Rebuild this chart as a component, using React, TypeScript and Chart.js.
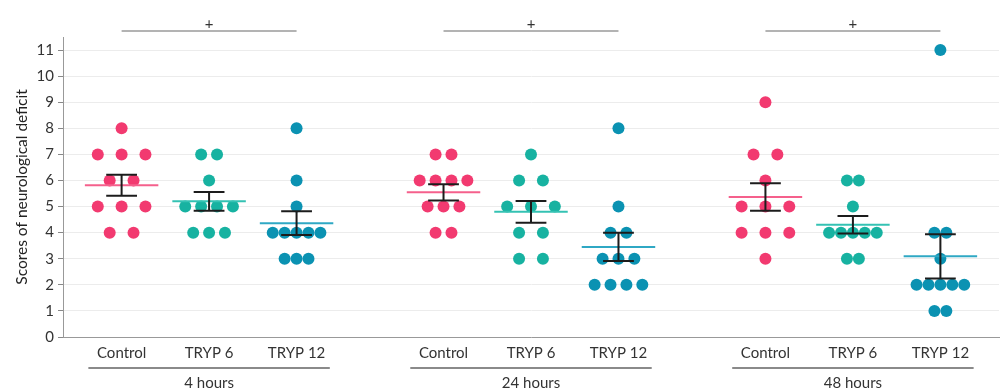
import React, { useEffect, useRef } from 'react';
import { Chart, registerables } from 'chart.js';

Chart.register(...registerables);

// ---------- data ----------
const timepoints = ['4 hours', '24 hours', '48 hours'];
const treatments = ['Control', 'TRYP 6', 'TRYP 12'];

const control4h = [8, 7, 7, 7, 6, 6, 5, 5, 5, 4, 4];
const tryp6_4h = [7, 7, 6, 5, 5, 5, 5, 4, 4, 4];
const tryp12_4h = [8, 6, 5, 4, 4, 4, 4, 4, 3, 3, 3];

const control24h = [7, 7, 6, 6, 6, 6, 5, 5, 5, 4, 4];
const tryp6_24h = [7, 6, 6, 5, 5, 5, 4, 4, 3, 3];
const tryp12_24h = [8, 5, 4, 4, 3, 3, 3, 2, 2, 2, 2];

const control48h = [9, 7, 7, 6, 5, 5, 5, 4, 4, 4, 3];
const tryp6_48h = [6, 6, 5, 4, 4, 4, 4, 4, 3, 3];
const tryp12_48h = [11, 4, 4, 3, 2, 2, 2, 2, 2, 1, 1];

const yTickValues = [0, 1, 2, 3, 4, 5, 6, 7, 8, 9, 10, 11];
const yAxisMax = 11.5;
const yAxisTitle = 'Scores of neurological deficit';
const significanceMark = '+';

const seriesByTime = [
  [control4h, tryp6_4h, tryp12_4h],
  [control24h, tryp6_24h, tryp12_24h],
  [control48h, tryp6_48h, tryp12_48h],
];

// ---------- style ----------
const dotColors = ['#f23a70', '#17b2a1', '#0b92b2'];
const meanColors = ['#f5608c', '#34c2b3', '#2fa8c4'];
const FONT = 'Lato, "Open Sans", sans-serif';

const GROUP_GAP = 3.68;
const X_MIN = -0.67;
const X_MAX = 2 * GROUP_GAP + 2 + 0.67;
const SWARM_SPAN = 0.545;
const MEAN_HALF = 0.42;
const CAP_HALF = 0.176;
const UNDERLINE_HALF = 1.38;

const xPos = (g: number, i: number) => g * GROUP_GAP + i;

function mean(v: number[]) {
  return v.reduce((a, b) => a + b, 0) / v.length;
}
function sem(v: number[]) {
  const m = mean(v);
  const ss = v.reduce((a, b) => a + (b - m) * (b - m), 0);
  return Math.sqrt(ss / (v.length - 1)) / Math.sqrt(v.length);
}

function swarm(values: number[], center: number) {
  const counts: Record<number, number> = {};
  values.forEach((v) => (counts[v] = (counts[v] || 0) + 1));
  const maxRow = Math.max(...Object.values(counts));
  const spacing = maxRow > 1 ? SWARM_SPAN / (maxRow - 1) : 0;
  const seen: Record<number, number> = {};
  return values.map((v) => {
    const n = counts[v];
    const k = seen[v] || 0;
    seen[v] = k + 1;
    return { x: center + (k - (n - 1) / 2) * spacing, y: v };
  });
}

const overlayPlugin = {
  id: 'overlay',
  afterDatasetsDraw(chart: any) {
    const { ctx } = chart;
    const x = chart.scales.x;
    const y = chart.scales.y;
    seriesByTime.forEach((grp, g) =>
      grp.forEach((vals, i) => {
        const cx = xPos(g, i);
        const m = mean(vals);
        const s = sem(vals);
        ctx.save();
        ctx.strokeStyle = meanColors[i];
        ctx.lineWidth = 2;
        ctx.beginPath();
        const my = y.getPixelForValue(m);
        ctx.moveTo(x.getPixelForValue(cx - MEAN_HALF), my);
        ctx.lineTo(x.getPixelForValue(cx + MEAN_HALF), my);
        ctx.stroke();
        ctx.strokeStyle = '#1c1c1c';
        ctx.lineWidth = 2;
        const px = x.getPixelForValue(cx);
        const top = y.getPixelForValue(m + s);
        const bot = y.getPixelForValue(m - s);
        const l = x.getPixelForValue(cx - CAP_HALF);
        const r = x.getPixelForValue(cx + CAP_HALF);
        ctx.beginPath();
        ctx.moveTo(px, top);
        ctx.lineTo(px, bot);
        ctx.moveTo(l, top);
        ctx.lineTo(r, top);
        ctx.moveTo(l, bot);
        ctx.lineTo(r, bot);
        ctx.stroke();
        ctx.restore();
      })
    );
  },
  afterDraw(chart: any) {
    const { ctx } = chart;
    const x = chart.scales.x;
    const area = chart.chartArea;
    ctx.save();
    ctx.textAlign = 'center';
    ctx.textBaseline = 'middle';
    timepoints.forEach((tp, g) => {
      ctx.fillStyle = '#333';
      ctx.font = `15px ${FONT}`;
      treatments.forEach((t, i) => {
        ctx.fillText(t, x.getPixelForValue(xPos(g, i)), area.bottom + 16);
      });
      const gc = xPos(g, 1);
      ctx.strokeStyle = '#8a8a8a';
      ctx.lineWidth = 2;
      ctx.beginPath();
      ctx.moveTo(x.getPixelForValue(gc - UNDERLINE_HALF), area.bottom + 31);
      ctx.lineTo(x.getPixelForValue(gc + UNDERLINE_HALF), area.bottom + 31);
      ctx.stroke();
      ctx.fillStyle = '#333';
      ctx.fillText(tp, x.getPixelForValue(gc), area.bottom + 46);
      ctx.strokeStyle = '#9a9a9a';
      ctx.lineWidth = 1.5;
      ctx.beginPath();
      ctx.moveTo(x.getPixelForValue(xPos(g, 0)), 31);
      ctx.lineTo(x.getPixelForValue(xPos(g, 2)), 31);
      ctx.stroke();
      ctx.fillStyle = '#333';
      ctx.font = `15px ${FONT}`;
      ctx.fillText(significanceMark, x.getPixelForValue(gc), 24);
    });
    ctx.restore();
  },
};

export default function App() {
  const ref = useRef<HTMLCanvasElement | null>(null);

  useEffect(() => {
    document.body.style.margin = '0';
    if (!ref.current) return;
    const datasets: any[] = [];
    seriesByTime.forEach((grp, g) =>
      grp.forEach((vals, i) => {
        datasets.push({
          label: `${treatments[i]} ${timepoints[g]}`,
          data: swarm(vals, xPos(g, i)),
          backgroundColor: dotColors[i],
          borderWidth: 0,
          pointRadius: 6,
          pointHoverRadius: 6,
        });
      })
    );

    const chart = new Chart(ref.current, {
      type: 'scatter',
      data: { datasets },
      options: {
        animation: false,
        responsive: false,
        layout: { padding: { top: 37, right: 0, left: 0, bottom: 0 } },
        plugins: { legend: { display: false }, tooltip: { enabled: false } },
        scales: {
          x: {
            type: 'linear',
            min: X_MIN,
            max: X_MAX,
            ticks: { display: false },
            grid: { display: false, drawTicks: false },
            border: { display: true, color: '#999', width: 1 },
            afterFit: (s: any) => {
              s.height = 53;
            },
          },
          y: {
            type: 'linear',
            min: 0,
            max: yAxisMax,
            afterBuildTicks: (s: any) => {
              s.ticks = yTickValues.map((v) => ({ value: v }));
            },
            ticks: {
              color: '#333',
              font: { family: FONT, size: 15 },
              padding: 4,
            },
            grid: { color: '#ececec', lineWidth: 1, tickColor: '#888', tickLength: 5 },
            border: { display: true, color: '#999', width: 1 },
            title: {
              display: true,
              text: yAxisTitle,
              color: '#222',
              font: { family: FONT, size: 15.5 },
              padding: { top: 13, bottom: 0 },
            },
            afterFit: (s: any) => {
              s.width = 63;
            },
          },
        },
      },
      plugins: [overlayPlugin],
    });
    return () => chart.destroy();
  }, []);

  return (
    <div style={{ width: 1005, height: 390 }}>
      <canvas ref={ref} width={1005} height={390} />
    </div>
  );
}
